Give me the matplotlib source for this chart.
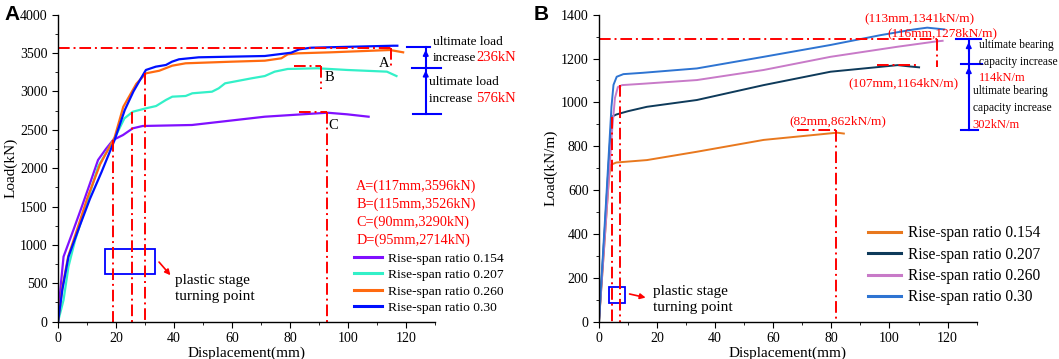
import matplotlib
matplotlib.use('Agg')
import matplotlib.pyplot as plt
from matplotlib.ticker import MultipleLocator

plt.rcParams['font.family'] = ['Liberation Serif', 'DejaVu Serif']

# ---------------- panel A data (Displacement mm, Load kN) ----------------
a_labels = ['Rise-span ratio 0.154', 'Rise-span ratio 0.207',
            'Rise-span ratio 0.260', 'Rise-span ratio 0.30']
a_colors = ['#8010ff', '#33f0c8', '#ff6a10', '#0010ff']

a154_x = [0, 0.8, 1.9, 5.3, 8.2, 11.0, 13.8, 16.5, 19.0, 22.4, 25.8, 29.2,
          46.2, 71.3, 92.9, 99.7, 107.1]
a154_y = [0, 420, 847, 1195, 1498, 1800, 2107, 2250, 2368, 2432, 2520, 2550,
          2563, 2671, 2723, 2702, 2671]

a207_x = [0, 1.9, 3.6, 5.9, 10.0, 13.8, 19.5, 22.9, 25.8, 30.3, 33.8, 37.2,
          39.4, 44.0, 46.3, 53.1, 55.4, 57.6, 66.7, 71.3, 74.7, 79.2, 89.5,
          99.7, 113.4, 116.7]
a207_y = [0, 283, 717, 1064, 1550, 2020, 2390, 2650, 2736, 2780, 2810, 2889,
          2932, 2941, 2976, 2997, 3041, 3106, 3171, 3201, 3258, 3293, 3302,
          3280, 3258, 3201]

a260_x = [0, 1.5, 3.5, 7.0, 10.0, 14.5, 19.5, 22.5, 27.0, 30.3, 34.9, 39.4,
          44.0, 59.9, 71.3, 77.0, 79.2, 82.7, 94.0, 114.5, 119.0]
a260_y = [0, 450, 850, 1250, 1600, 2050, 2400, 2800, 3100, 3236, 3270, 3336,
          3367, 3388, 3401, 3432, 3484, 3497, 3510, 3540, 3510]

a30_x = [0, 1.5, 3.6, 7.5, 11.0, 15.0, 19.5, 23.0, 26.0, 28.6, 30.3, 33.7,
         37.2, 39.3, 41.7, 48.5, 71.3, 80.4, 83.2, 87.2, 115.7, 117.0]
a30_y = [0, 420, 847, 1250, 1600, 1950, 2367, 2757, 3000, 3171, 3280, 3323,
         3345, 3388, 3419, 3445, 3462, 3505, 3549, 3570, 3596, 3596]

a_points = ['A=(117mm,3596kN)', 'B=(115mm,3526kN)',
            'C=(90mm,3290kN)', 'D=(95mm,2714kN)']

# ---------------- panel B data (Displacement mm, Load kN/m) ----------------
b_labels = ['Rise-span ratio 0.154', 'Rise-span ratio 0.207',
            'Rise-span ratio 0.260', 'Rise-span ratio 0.30']
b_colors = ['#e8781e', '#0e3a5a', '#c87ac8', '#2e74d2']

b154_x = [0, 2.0, 3.4, 4.0, 6.0, 16.5, 33.7, 56.7, 79.7, 82.0, 84.3]
b154_y = [0, 380, 650, 715, 726, 737, 775, 829, 859, 862, 858]

b207_x = [0, 2.0, 3.8, 4.4, 6.0, 10.0, 16.5, 33.7, 56.7, 79.7, 102.8, 107.0,
          110.2]
b207_y = [0, 420, 820, 935, 945, 960, 980, 1011, 1079, 1140, 1170, 1164,
          1160]

b260_x = [0, 2.5, 4.5, 5.5, 6.5, 8.0, 15.0, 33.7, 56.7, 79.7, 102.8, 116.0,
          118.3]
b260_y = [0, 480, 870, 1020, 1070, 1079, 1085, 1102, 1148, 1208, 1254,
          1278, 1281]

b30_x = [0, 2.5, 4.3, 5.0, 6.1, 8.4, 15.0, 33.7, 56.7, 79.7, 97.0, 108.5,
         113.0, 118.9]
b30_y = [0, 560, 980, 1080, 1117, 1129, 1135, 1155, 1208, 1262, 1307, 1333,
         1341, 1333]


def style_axes(ax, ymax, ymajor, yminor):
    ax.set_xlim(0, 130)
    ax.set_ylim(0, ymax)
    ax.xaxis.set_major_locator(MultipleLocator(20))
    ax.xaxis.set_minor_locator(MultipleLocator(10))
    ax.yaxis.set_major_locator(MultipleLocator(ymajor))
    ax.yaxis.set_minor_locator(MultipleLocator(yminor))
    ax.spines['top'].set_visible(False)
    ax.spines['right'].set_visible(False)
    for s in ('left', 'bottom'):
        ax.spines[s].set_linewidth(1.0)
    ax.tick_params(which='both', direction='out', labelsize=10)
    ax.tick_params(which='major', length=4)
    ax.tick_params(which='minor', length=2.5)
    ax.set_xlabel('Displacement(mm)', fontsize=11, labelpad=1)


red = '#ff0000'
blue = '#0000ff'
dd = dict(color=red, lw=1.4, ls=(0, (6, 2, 1, 2)), clip_on=False)
up_arrow = dict(arrowstyle='-|>', color=blue, lw=1.2, mutation_scale=8)

fig = plt.figure(figsize=(10.59, 3.59), dpi=100)

# ====================== panel A ======================
ax1 = fig.add_axes([0.0548, 0.104, 0.356, 0.855])
style_axes(ax1, 4000, 500, 250)
ax1.set_ylabel('Load(kN)', fontsize=11, labelpad=2)

for xs, ys, c, lab in zip([a154_x, a207_x, a260_x, a30_x],
                          [a154_y, a207_y, a260_y, a30_y], a_colors, a_labels):
    ax1.plot(xs, ys, color=c, lw=1.6, label=lab)

# red dash-dot guides
ax1.plot([0, 114.8], [3570, 3570], **dd)
ax1.plot([114.8, 114.8], [3570, 3323], **dd)
ax1.plot([81.5, 90.6], [3336, 3336], **dd)
ax1.plot([90.6, 90.6], [3336, 3028], **dd)
ax1.plot([83.0, 92.6], [2736, 2736], **dd)
ax1.plot([92.6, 92.6], [2736, 0], **dd)
ax1.plot([18.9, 18.9], [2368, 0], **dd)
ax1.plot([25.4, 25.4], [2736, 0], **dd)
ax1.plot([30.0, 30.0], [3245, 0], **dd)

ax1.text(112.3, 3360, 'A', fontsize=10.5, ha='center', va='center')
ax1.text(93.6, 3180, 'B', fontsize=10.5, ha='center', va='center')
ax1.text(94.8, 2555, 'C', fontsize=10.5, ha='center', va='center')

# plastic stage box and arrow
ax1.add_patch(plt.Rectangle((16.2, 621), 17.3, 322, fill=False,
                            edgecolor=blue, lw=1.3))
ax1.annotate('', xy=(39.4, 578), xytext=(34.2, 804),
             arrowprops=dict(arrowstyle='-|>', color=red, lw=1.2,
                             mutation_scale=8))
ax1.text(40.2, 437, 'plastic stage\nturning point', fontsize=11,
         ha='left', va='center', linespacing=1.3)

for i, t in enumerate(a_points):
    ax1.text(102.8, 1759 - i * 233, t, color=red, fontsize=10.3,
             ha='left', va='center')

leg1 = ax1.legend(loc='lower left', bbox_to_anchor=(0.785, 0.025),
                  frameon=False, fontsize=9.7, handlelength=2.1,
                  handletextpad=0.45, labelspacing=0.3, borderaxespad=0,
                  borderpad=0)
for ln in leg1.get_lines():
    ln.set_linewidth(2.2)

# blue arrows to the right of panel A
ax1.plot([120.2, 128.2], [3579, 3579], color=blue, lw=1.5, clip_on=False)
ax1.plot([121.9, 132.2], [3310, 3310], color=blue, lw=1.5, clip_on=False)
ax1.plot([122.5, 132.2], [2710, 2710], color=blue, lw=1.5, clip_on=False)
ax1.plot([126.8, 126.8], [2710, 3579], color=blue, lw=1.5, clip_on=False)
for y0, y1 in [(3400, 3579), (3150, 3310)]:
    ax1.annotate('', xy=(126.8, y1), xytext=(126.8, y0),
                 arrowprops=up_arrow, annotation_clip=False)
ax1.text(129.3, 3640, 'ultimate load', fontsize=9.5, va='center',
         ha='left', clip_on=False)
t = ax1.text(129.3, 3440, 'increase', fontsize=9.5, va='center',
             ha='left', clip_on=False)
ax1.annotate('236kN', xy=(1, 0), xycoords=t, color=red, fontsize=10.5,
             va='bottom', ha='left')
ax1.text(128.0, 3123, 'ultimate load', fontsize=9.5, va='center',
         ha='left', clip_on=False)
t = ax1.text(128.0, 2900, 'increase ', fontsize=9.5, va='center',
             ha='left', clip_on=False)
ax1.annotate('576kN', xy=(1, 0), xycoords=t, color=red, fontsize=10.5,
             va='bottom', ha='left')

fig.text(0.004, 0.985, 'A', fontsize=15, fontweight='bold',
         family='Liberation Sans', va='top', ha='left')

# ====================== panel B ======================
ax2 = fig.add_axes([0.5656, 0.104, 0.3566, 0.855])
style_axes(ax2, 1400, 200, 100)
ax2.set_ylabel('Load(kN/m)', fontsize=11, labelpad=2)

for xs, ys, c, lab in zip([b154_x, b207_x, b260_x, b30_x],
                          [b154_y, b207_y, b260_y, b30_y], b_colors, b_labels):
    ax2.plot(xs, ys, color=c, lw=1.4, label=lab)

ax2.plot([0, 116.3], [1288, 1288], **dd)
ax2.plot([116.3, 116.3], [1288, 1163], **dd)
ax2.plot([95.8, 109.7], [1170, 1170], **dd)
ax2.plot([68.2, 81.5], [874, 874], **dd)
ax2.plot([81.5, 81.5], [874, 0], **dd)
ax2.plot([4.6, 4.6], [935, 0], **dd)
ax2.plot([7.2, 7.2], [1079, 0], **dd)

ax2.text(110.2, 1383, '(113mm,1341kN/m)', color=red, fontsize=9.6,
         ha='center', va='center')
ax2.text(118.3, 1315, '(116mm,1278kN/m)', color=red, fontsize=9.6,
         ha='center', va='center')
ax2.text(104.8, 1087, '(107mm,1164kN/m)', color=red, fontsize=9.6,
         ha='center', va='center')
ax2.text(82.3, 912, '(82mm,862kN/m)', color=red, fontsize=9.6,
         ha='center', va='center')

ax2.add_patch(plt.Rectangle((3.3, 84), 5.6, 73, fill=False,
                            edgecolor=blue, lw=1.3))
ax2.annotate('', xy=(17.0, 107), xytext=(9.6, 129),
             arrowprops=dict(arrowstyle='-|>', color=red, lw=1.2,
                             mutation_scale=8))
ax2.text(18.5, 103, 'plastic stage\nturning point', fontsize=11,
         ha='left', va='center', linespacing=1.3)

leg2 = ax2.legend(loc='lower left', bbox_to_anchor=(0.712, 0.053),
                  frameon=False, fontsize=11.2, handlelength=2.1,
                  handletextpad=0.45, labelspacing=0.35, borderaxespad=0,
                  borderpad=0)
for ln in leg2.get_lines():
    ln.set_linewidth(2.2)

ax2.plot([122.9, 131.5], [1288, 1288], color=blue, lw=1.5, clip_on=False)
ax2.plot([124.6, 132.0], [1174, 1174], color=blue, lw=1.5, clip_on=False)
ax2.plot([124.6, 130.4], [874, 874], color=blue, lw=1.5, clip_on=False)
ax2.plot([127.3, 127.3], [874, 1288], color=blue, lw=1.5, clip_on=False)
for y0, y1 in [(1220, 1288), (1100, 1174)]:
    ax2.annotate('', xy=(127.3, y1), xytext=(127.3, y0),
                 arrowprops=up_arrow, annotation_clip=False)
ax2.text(130.9, 1262, 'ultimate bearing', fontsize=8.3, va='center',
         ha='left', clip_on=False)
ax2.text(130.9, 1186, 'capacity increase', fontsize=8.3, va='center',
         ha='left', clip_on=False)
ax2.text(130.9, 1110, '114kN/m', color=red, fontsize=9, va='center',
         ha='left', clip_on=False)
ax2.text(128.6, 1053, 'ultimate bearing', fontsize=8.3, va='center',
         ha='left', clip_on=False)
ax2.text(128.6, 973, 'capacity increase', fontsize=8.3, va='center',
         ha='left', clip_on=False)
ax2.text(128.6, 897, '302kN/m', color=red, fontsize=9, va='center',
         ha='left', clip_on=False)

fig.text(0.504, 0.985, 'B', fontsize=15, fontweight='bold',
         family='Liberation Sans', va='top', ha='left')

fig.savefig('out.png', dpi=100)
